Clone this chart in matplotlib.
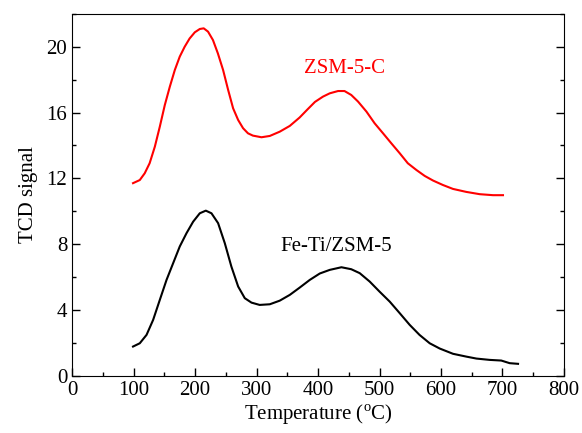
import matplotlib
matplotlib.use('Agg')
import matplotlib.pyplot as plt
from matplotlib.ticker import MultipleLocator

plt.rcParams['font.family'] = ['Liberation Serif', 'DejaVu Serif']
plt.rcParams['mathtext.fontset'] = 'custom'
plt.rcParams['mathtext.rm'] = 'Liberation Serif'

# ZSM-5-C (red curve)
temp_c = [99, 110, 118, 126, 134.5, 142.6, 150.7, 158.9, 167, 175, 183, 191,
          199.5, 207.6, 214, 221, 229, 237, 245.5, 253.7, 261.8, 270, 278, 286,
          294, 308, 321.5, 337.7, 354, 370, 383, 395, 408, 419, 432.5, 443, 454,
          465, 478.7, 492, 505.7, 519, 532.8, 546, 560, 573.5, 587, 603, 619.5,
          641, 663, 684.6, 700.8]
tcd_c = [11.71, 11.9, 12.31, 12.92, 13.93, 15.15, 16.46, 17.58, 18.59, 19.4, 20.0,
         20.5, 20.88, 21.08, 21.12, 20.92, 20.41, 19.6, 18.59, 17.38, 16.26, 15.55,
         15.05, 14.74, 14.6, 14.5, 14.58, 14.84, 15.19, 15.7, 16.2, 16.65, 16.97,
         17.17, 17.31, 17.31, 17.07, 16.67, 16.06, 15.35, 14.74, 14.14, 13.53,
         12.92, 12.51, 12.15, 11.87, 11.6, 11.36, 11.18, 11.04, 10.98, 10.98]

# Fe-Ti/ZSM-5 (black curve)
temp_f = [99, 110, 121, 131.7, 142.6, 153.5, 164.3, 175, 186, 196.8, 207.6, 217.4,
          226.6, 237.4, 248.3, 259, 270, 280.8, 291.7, 305, 321.5, 337.7, 354, 370,
          386.5, 402.8, 419, 438, 454, 467.8, 484, 500, 516.6, 532.8, 549, 565,
          581.6, 597.9, 619.5, 641, 657.6, 679, 698, 711.7, 725.3]
tcd_f = [1.78, 1.98, 2.49, 3.4, 4.62, 5.83, 6.85, 7.86, 8.67, 9.37, 9.88, 10.04,
         9.88, 9.28, 8.06, 6.64, 5.43, 4.72, 4.45, 4.31, 4.35, 4.57, 4.92, 5.36,
         5.83, 6.22, 6.44, 6.6, 6.48, 6.24, 5.73, 5.12, 4.51, 3.81, 3.1, 2.49,
         1.98, 1.66, 1.34, 1.17, 1.05, 0.97, 0.93, 0.77, 0.73]

fig = plt.figure(figsize=(5.82, 4.33), dpi=100)
ax = fig.add_axes([0.124, 0.132, 0.845, 0.836])

ax.plot(temp_c, tcd_c, color='#ff0000', linewidth=1.5)
ax.plot(temp_f, tcd_f, color='black', linewidth=1.5)

ax.text(443, 18.7, 'ZSM-5-C', color='#ff0000', fontsize=15, ha='center', va='center')
ax.text(430, 7.85, 'Fe-Ti/ZSM-5', color='black', fontsize=15, ha='center', va='center')

ax.set_xlim(0, 800)
ax.set_ylim(0, 22)
ax.xaxis.set_major_locator(MultipleLocator(100))
ax.xaxis.set_minor_locator(MultipleLocator(50))
ax.yaxis.set_major_locator(MultipleLocator(4))
ax.yaxis.set_minor_locator(MultipleLocator(2))
ax.tick_params(which='both', direction='in', right=True, top=False, labelsize=15, width=1)
ax.tick_params(which='major', length=6)
ax.tick_params(which='minor', length=3)

ax.set_xlabel(r'Temperature ($^{\rm o}$C)', fontsize=15, labelpad=2)
ax.set_ylabel('TCD signal', fontsize=15, labelpad=6)

fig.savefig('out.png', dpi=100)
